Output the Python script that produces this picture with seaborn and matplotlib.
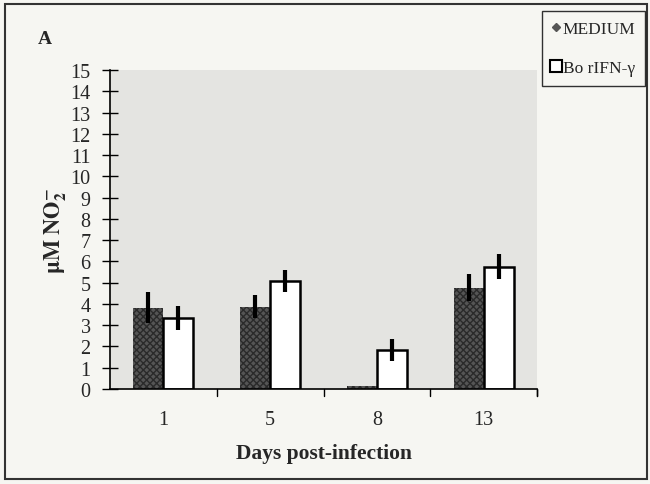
import matplotlib
matplotlib.use("Agg")
import matplotlib.pyplot as plt
import seaborn as sns
import pandas as pd
import numpy as np
from matplotlib.patches import Rectangle
from matplotlib.lines import Line2D

days = ["1", "5", "8", "13"]
groups = ["MEDIUM", "Bo rIFN-γ"]
medium_vals = [3.82, 3.87, 0.15, 4.77]
medium_err = [0.72, 0.55, 0.0, 0.65]
ifn_vals = [3.33, 5.08, 1.83, 5.76]
ifn_err = [0.56, 0.50, 0.50, 0.58]
yticks = list(range(0, 16))

df = pd.DataFrame({
    "day": days * 2,
    "group": [groups[0]] * 4 + [groups[1]] * 4,
    "value": medium_vals + ifn_vals,
})

sns.set_theme(style="white")
plt.rcParams["font.family"] = ["Liberation Serif", "DejaVu Serif"]
plt.rcParams["mathtext.fontset"] = "stix"
plt.rcParams["hatch.color"] = "#222222"
plt.rcParams["hatch.linewidth"] = 1.0

fig = plt.figure(figsize=(6.5, 4.85), dpi=100)
fig.patch.set_facecolor("#f6f6f2")
ax = fig.add_axes([110 / 650, 1 - 390 / 485, 427 / 650, 319 / 485])
ax.set_facecolor("#e4e4e1")

sns.barplot(data=df, x="day", y="value", hue="group", order=days,
            hue_order=groups, palette=["#555555", "white"], width=0.56,
            errorbar=None, ax=ax, legend=False, saturation=1)

n = len(days)
for i, p in enumerate(ax.patches[:2 * n]):
    if i < n:
        p.set_hatch("xxxxx")
        p.set_edgecolor("#2a2a2a")
        p.set_linewidth(0)
    else:
        p.set_edgecolor("black")
        p.set_linewidth(1.8)

errs = medium_err + ifn_err
vals = medium_vals + ifn_vals
xs = [p.get_x() + p.get_width() / 2 for p in ax.patches[:2 * n]]
for x, v, e in zip(xs, vals, errs):
    if e > 0:
        ax.errorbar(x, v, yerr=e, fmt="none", ecolor="black", elinewidth=3, capsize=0, zorder=5)

ax.set_ylim(0, 15)
ax.set_xlim(-0.5, n - 0.5)
ax.set_yticks(yticks)
ax.set_yticklabels([str(t) for t in yticks], fontsize=14.5)
ax.set_xticks(range(n))
ax.set_xticklabels(days, fontsize=14.5)
ax.tick_params(axis="x", length=0, pad=15)
for b in np.arange(0.5, n - 0.5 + 1e-9, 1.0):
    ax.plot([b, b], [0, -0.35], color="black", lw=1, clip_on=False)
ax.plot([n - 0.5, n - 0.5], [0, -0.35], color="black", lw=1, clip_on=False)
ax.tick_params(axis="y", direction="inout", length=12, width=1, color="black", pad=8, left=True)

for s in ["top", "right"]:
    ax.spines[s].set_visible(False)
for s in ["left", "bottom"]:
    ax.spines[s].set_color("black")
    ax.spines[s].set_linewidth(1.2)

ax.set_xlabel("Days post-infection", fontsize=15.5, fontweight="bold", labelpad=10)
ax.set_ylabel(r"$\mathbf{\mu M\ NO}_{\mathbf{2}}^{\mathbf{-}}$", fontsize=16, labelpad=2)

fig.text(38 / 650, 1 - 40 / 485, "A", fontsize=14, fontweight="bold", va="center")

handles = [
    Line2D([], [], marker="D", color="#555555", markersize=4, linestyle="none"),
    Line2D([], [], marker="s", markerfacecolor="white", markeredgecolor="black",
           markeredgewidth=1.5, markersize=8, linestyle="none"),
]
leg = fig.legend(handles, groups, loc="upper left", bbox_to_anchor=(542 / 650, 1 - 12 / 485),
                 fontsize=12.5, frameon=True, fancybox=False, handlelength=0.5,
                 handletextpad=0.15, borderpad=0.55, labelspacing=1.35, borderaxespad=0)
leg.get_frame().set_edgecolor("black")
leg.get_frame().set_linewidth(1)
leg.get_frame().set_facecolor("#f6f6f2")

fig.patches.append(Rectangle((5 / 650, 1 - 480 / 485), 642 / 650, 475 / 485,
                             transform=fig.transFigure, fill=False,
                             edgecolor="#333333", linewidth=1.5))

fig.savefig("out.png", dpi=100)
